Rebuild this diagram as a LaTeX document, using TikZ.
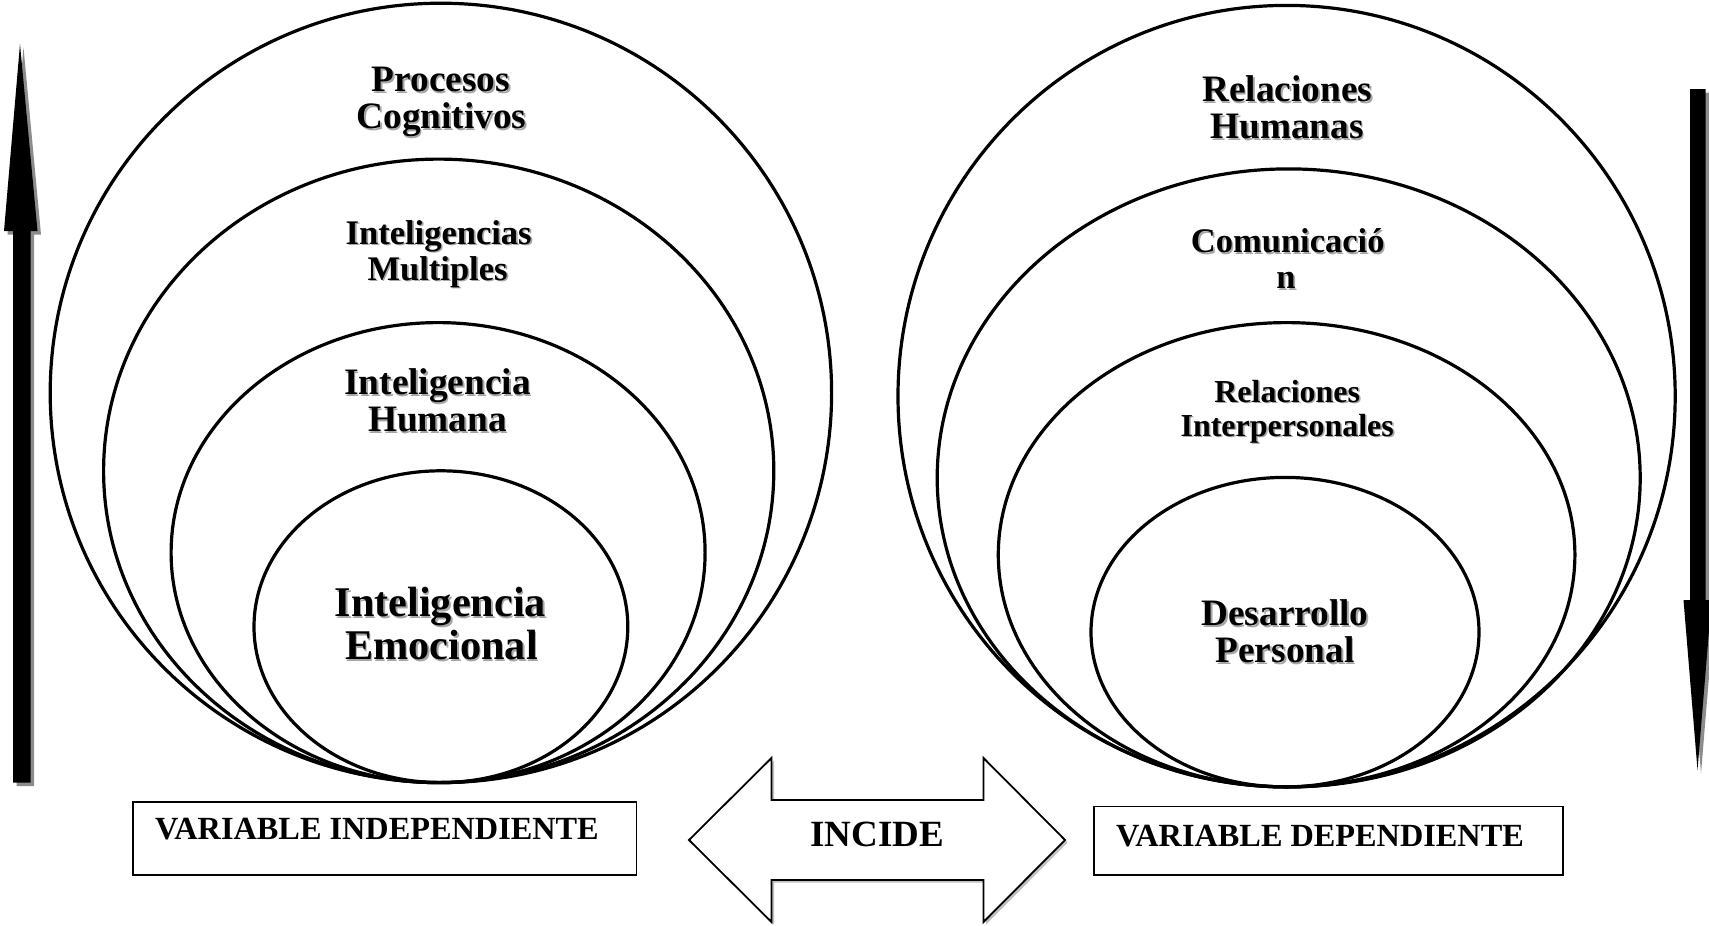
\documentclass[tikz,border=0pt]{standalone}
\usepackage{fontspec}
\setmainfont{Liberation Serif}
\newcommand\shtxt[1]{\makebox[0pt][l]{\hspace{1.6pt}\raisebox{-1.6pt}{\textcolor{black!35}{#1}}}#1}
\tikzset{
  ring/.style={line width=3.2pt, draw=black},
  lbl/.style={anchor=base, inner sep=0pt},
  sA/.style={lbl, font=\bfseries\fontsize{37.3}{38}\selectfont},
  sB/.style={lbl, font=\bfseries\fontsize{34.5}{36}\selectfont},
  sC/.style={lbl, font=\bfseries\fontsize{42.3}{43}\selectfont},
  sD/.style={lbl, font=\bfseries\fontsize{32}{34}\selectfont},
  vtxt/.style={anchor=base west, inner sep=0pt, font=\bfseries\fontsize{32.3}{34}\selectfont},
  varbox/.style={draw=black, line width=1.5pt},
  bigarrow/.style={fill=black},
  arrshadow/.style={fill=black!45},
}
\begin{document}
\begin{tikzpicture}[x=1pt,y=-1pt]
\useasboundingbox (0,0) rectangle (1709,926);
\fill[white] (0,0) rectangle (1709,926);

% left ellipses
\draw[ring] (440.9,392.9) ellipse [x radius=390.7, y radius=389.7];
\draw[ring] (438.7,470.85) ellipse [x radius=335.1, y radius=311.75];
\draw[ring] (438.1,552.6) ellipse [x radius=267.0, y radius=230.0];
\draw[ring] (440.9,626.7) ellipse [x radius=186.9, y radius=155.9];

% right ellipses
\draw[ring] (1286.6,396.15) ellipse [x radius=388.6, y radius=390.75];
\draw[ring] (1288.7,477.9) ellipse [x radius=351.5, y radius=309.0];
\draw[ring] (1286.6,554.75) ellipse [x radius=288.3, y radius=232.15];
\draw[ring] (1285,632.15) ellipse [x radius=194.0, y radius=154.75];

% left labels
\node[sA] (pc1) at (440.9,91.6) {\shtxt{Procesos}};
\node[sA] (pc2) at (441.4,128.6) {\shtxt{Cognitivos}};
\node[sB] (im1) at (438.7,244.1) {\shtxt{Inteligencias}};
\node[sB] (im2) at (437.6,280.1) {\shtxt{Multiples}};
\node[sA] (ih1) at (437.6,394.5) {\shtxt{Inteligencia}};
\node[sA] (ih2) at (437.6,431.6) {\shtxt{Humana}};
\node[sC] (ie1) at (440.3,616.9) {\shtxt{Inteligencia}};
\node[sC] (ie2) at (441.4,659.4) {\shtxt{Emocional}};

% right labels
\node[sA] (rh1) at (1287.2,101.4) {\shtxt{Relaciones}};
\node[sA] (rh2) at (1287.2,138.4) {\shtxt{Humanas}};
\node[sB] (co1) at (1287.7,252.9) {\shtxt{Comunicació}};
\node[sB] (co2) at (1286,288.8) {\shtxt{n}};
\node[sD] (ri1) at (1287.2,402.2) {\shtxt{Relaciones}};
\node[sD] (ri2) at (1287.2,436) {\shtxt{Interpersonales}};
\node[sA] (dp1) at (1285,625.6) {\shtxt{Desarrollo}};
\node[sA] (dp2) at (1285,662.7) {\shtxt{Personal}};

% left up arrow
\fill[arrshadow, shift={(3.5,3.5)}] (20,44) -- (37.5,231) -- (30.5,231) -- (30.5,782.6) -- (13,782.6) -- (13,231) -- (4,231) -- cycle;
\fill[bigarrow] (20,44) -- (37.5,231) -- (30.5,231) -- (30.5,782.6) -- (13,782.6) -- (13,231) -- (4,231) -- cycle;

% right down arrow
\fill[arrshadow, shift={(3.5,3.5)}] (1690,89) -- (1705.5,89) -- (1705.5,600) -- (1711.5,600) -- (1697.5,770) -- (1683.5,600) -- (1690,600) -- cycle;
\fill[bigarrow] (1690,89) -- (1705.5,89) -- (1705.5,600) -- (1711.5,600) -- (1697.5,770) -- (1683.5,600) -- (1690,600) -- cycle;

% double arrow
\fill[black!25, shift={(2.5,2.5)}] (689,840) -- (771.5,758) -- (771.5,800) -- (983.5,800) -- (983.5,758) -- (1065,840) -- (983.5,922) -- (983.5,880) -- (771.5,880) -- (771.5,922) -- cycle;
\draw[line width=1.8pt, fill=white, line join=miter] (689,840) -- (771.5,758) -- (771.5,800) -- (983.5,800) -- (983.5,758) -- (1065,840) -- (983.5,922) -- (983.5,880) -- (771.5,880) -- (771.5,922) -- cycle;
\node[lbl, font=\bfseries\fontsize{37}{38}\selectfont] (inc) at (877,846) {INCIDE};

% variable boxes
\draw[varbox] (133,802) rectangle (636.5,875);
\node[vtxt] (vi) at (155,839) {VARIABLE INDEPENDIENTE};
\draw[varbox] (1094,806.5) rectangle (1563,875);
\node[vtxt] (vd) at (1116,846) {VARIABLE DEPENDIENTE};
\end{tikzpicture}
\end{document}
